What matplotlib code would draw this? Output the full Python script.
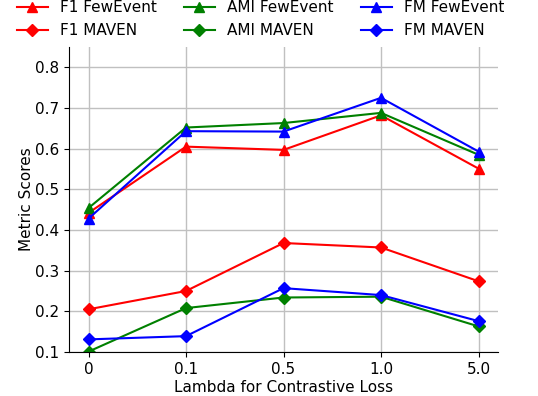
import matplotlib
matplotlib.use('Agg')
import matplotlib.pyplot as plt

lambdas = ['0', '0.1', '0.5', '1.0', '5.0']

f1_fewevent = [0.442, 0.605, 0.597, 0.682, 0.551]
ami_fewevent = [0.454, 0.652, 0.663, 0.688, 0.585]
fm_fewevent = [0.428, 0.643, 0.642, 0.725, 0.593]

f1_maven = [0.205, 0.250, 0.368, 0.357, 0.274]
ami_maven = [0.101, 0.208, 0.234, 0.236, 0.163]
fm_maven = [0.131, 0.139, 0.257, 0.240, 0.176]

plt.rcParams['font.size'] = 11

fig = plt.figure(figsize=(5.38, 3.96), dpi=100)
ax = fig.add_axes([69 / 538, 44 / 396, 429 / 538, 305 / 396])

x = range(len(lambdas))
ax.plot(x, f1_fewevent, color='red', marker='^', markersize=7, linewidth=1.5, label='F1 FewEvent')
ax.plot(x, f1_maven, color='red', marker='D', markersize=6, linewidth=1.5, label='F1 MAVEN')
ax.plot(x, ami_fewevent, color='green', marker='^', markersize=7, linewidth=1.5, label='AMI FewEvent')
ax.plot(x, ami_maven, color='green', marker='D', markersize=6, linewidth=1.5, label='AMI MAVEN')
ax.plot(x, fm_fewevent, color='blue', marker='^', markersize=7, linewidth=1.5, label='FM FewEvent')
ax.plot(x, fm_maven, color='blue', marker='D', markersize=6, linewidth=1.5, label='FM MAVEN')

ax.set_xticks(list(x))
ax.set_xticklabels(lambdas)
ax.set_xlim(-0.2, 4.2)
ax.set_ylim(0.1, 0.85)
ax.set_yticks([0.1, 0.2, 0.3, 0.4, 0.5, 0.6, 0.7, 0.8])
ax.grid(True, color='#c0c0c0', linewidth=1)
ax.set_axisbelow(True)
ax.spines['top'].set_visible(False)
ax.spines['right'].set_visible(False)
ax.set_xlabel('Lambda for Contrastive Loss', labelpad=2)
ax.set_ylabel('Metric Scores', labelpad=1)

fig.legend(loc='upper left', bbox_to_anchor=(0.009, 1.03), ncol=3, frameon=False,
           columnspacing=1.8, borderpad=0.3)

fig.savefig('out.png', dpi=100)
